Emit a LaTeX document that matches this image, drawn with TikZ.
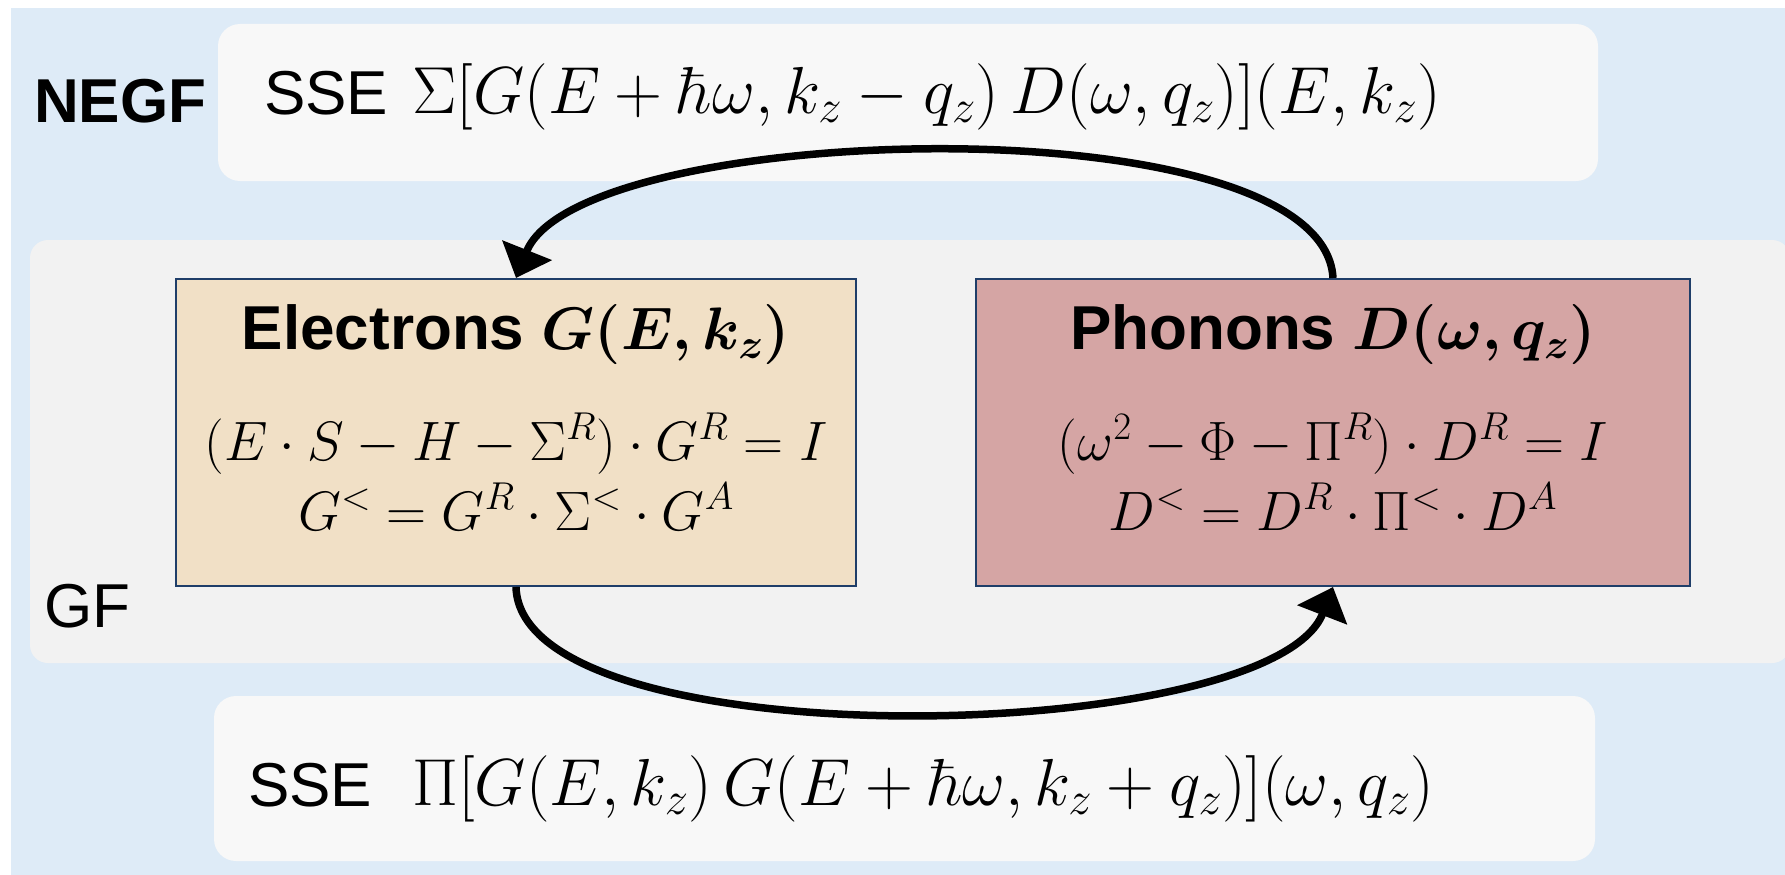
\RequirePackage{fix-cm}
\documentclass[tikz,border=0pt]{standalone}
\usepackage[no-math]{fontspec}
\usepackage{amsmath}
\usepackage{bm}
\newfontfamily\arialf{Liberation Sans}
\usetikzlibrary{arrows.meta,calc}
\definecolor{bgblue}{RGB}{222,235,247}
\definecolor{panelwhite}{RGB}{248,248,248}
\definecolor{gfgray}{RGB}{242,242,242}
\definecolor{elfill}{RGB}{241,224,198}
\definecolor{phfill}{RGB}{213,165,164}
\definecolor{edgeblue}{RGB}{31,62,105}
\begin{document}
\begin{tikzpicture}[x=1pt,y=-1pt,
  eqbox/.style={draw=edgeblue, line width=2pt, minimum width=680pt, minimum height=307pt, anchor=north west, inner sep=0pt},
  txt/.style={font=\arialf\fontsize{62}{72}\selectfont, inner sep=0pt},
  btxt/.style={font=\arialf\bfseries\fontsize{62}{72}\selectfont, inner sep=0pt},
  bigm/.style={font=\fontsize{66.5}{72}\selectfont, inner sep=0pt},
  mth/.style={font=\fontsize{55.5}{60}\selectfont, inner sep=0pt},
  arr/.style={line width=7.5pt, -{Triangle[length=30pt,width=52pt]}}]
\useasboundingbox (0,0) rectangle (1785,875);
% backgrounds
\fill[bgblue] (11,8) rectangle (1785,875);
\fill[panelwhite, rounded corners=22pt] (218,24) rectangle (1598,181);
\fill[gfgray, rounded corners=18pt] (30,240) rectangle (1790,663);
\fill[panelwhite, rounded corners=22pt] (214,696) rectangle (1595,861);
% boxes
\node[eqbox, fill=elfill, minimum width=680pt] (el) at (175,278) {};
\node[eqbox, fill=phfill, minimum width=714pt] (ph) at (975,278) {};
% labels
\node[btxt, anchor=base west] (negf) at (34,122) {NEGF};
\node[txt, anchor=base west] (gf) at (44,627) {GF};
\node[txt, anchor=base west] (sse1) at (264,114) {SSE};
\node[bigm, anchor=base west] (f1) at (412,113) {$\Sigma[G(E+\hbar\omega,k_z-q_z)\,D(\omega,q_z)](E,k_z)$};
\node[txt, anchor=base west] (sse2) at (248,806) {SSE};
\node[bigm, anchor=base west] (f2) at (412,805) {$\Pi[G(E,k_z)\,G(E+\hbar\omega,k_z+q_z)](\omega,q_z)$};
% electrons
\node[btxt, anchor=base] (elt) at ($(el.north)+(0,71)$) {Electrons {\fontsize{60}{70}\selectfont$\bm{G(E,k_z)}$}};
\node[mth, anchor=base] (ele1) at ($(el.north)+(0,182)$) {$(E\cdot S-H-\Sigma^R)\cdot G^R=I$};
\node[mth, anchor=base] (ele2) at ($(el.north)+(0,252)$) {$G^<=G^R\cdot\Sigma^<\cdot G^A$};
% phonons
\node[btxt, anchor=base] (pht) at ($(ph.north)+(0,71)$) {Phonons {\fontsize{60}{70}\selectfont$\bm{D(\omega,q_z)}$}};
\node[mth, anchor=base] (phe1) at ($(ph.north)+(0,182)$) {$(\omega^2-\Phi-\Pi^R)\cdot D^R=I$};
\node[mth, anchor=base] (phe2) at ($(ph.north)+(0,252)$) {$D^<=D^R\cdot\Pi^<\cdot D^A$};
% arrows
\draw[arr] (ph.north) .. controls +(-10,-178) and +(63,-158) .. (el.north);
\draw[arr] (el.south) .. controls +(5,175) and +(-62,160) .. (ph.south);
\end{tikzpicture}
\end{document}
